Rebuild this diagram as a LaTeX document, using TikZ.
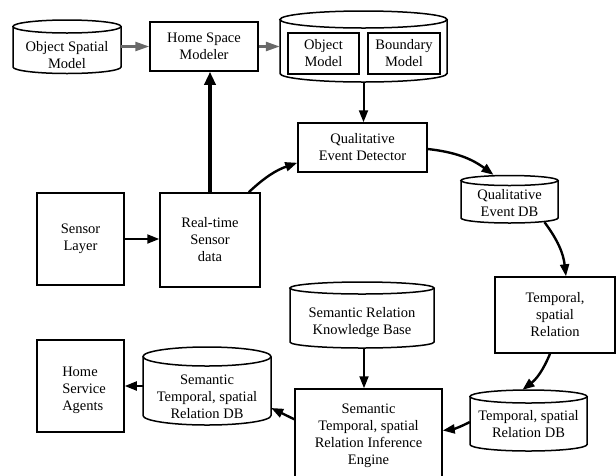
\documentclass[tikz,border=0pt]{standalone}
\usepackage{fontspec}
\setmainfont{Liberation Serif}
\newfontfamily\tnrfont{Liberation Serif}
\usetikzlibrary{arrows.meta,calc}
\tikzset{
  dbline/.style={line width=1.5pt},
  blk/.style={draw, line width=1.5pt, inner sep=0pt, align=center, font=\lblfont},
  shell/.style={draw=none, inner sep=0pt},
  lbl/.style={inner sep=0pt, align=center, font=\lblfont},
  arr/.style={line width=2pt, -{Triangle[length=12pt,width=9pt]}},
  carr/.style={line width=2.4pt, -{Triangle[length=12pt,width=9pt]}},
  tarr/.style={line width=3.8pt, -{Triangle[length=13pt,width=11pt]}},
  garr/.style={line width=2.5pt, draw={rgb,255:red,105;green,105;blue,105}, -{Triangle[length=14pt,width=9pt]}},
}
\newcommand\lblfont{\tnrfont\fontsize{14.5}{17}\selectfont}
\newcommand\drawdb[5]{%
  \pgfmathsetmacro\dbrx{(#2-#1)/2}%
  \pgfmathsetmacro\dbcx{(#1+#2)/2}%
  \draw[dbline] (#1,#3) -- (#1,#4) arc[start angle=180,end angle=360,x radius=\dbrx pt,y radius=#5 pt] -- (#2,#3);
  \draw[dbline] (\dbcx,#3) ellipse[x radius=\dbrx pt,y radius=#5 pt];
}
\begin{document}
\begin{tikzpicture}[x=1pt,y=-1pt]
\useasboundingbox (0,0) rectangle (616,475);
% cylinders (databases)
\drawdb{13}{121}{26.5}{67}{6.5}
\node[shell, minimum width=108pt, minimum height=53pt] (osm) at (67,46.5) {};
\node[lbl] (osmt) at (67,55) {Object Spatial\\Model};

\drawdb{280}{447}{19.5}{73.5}{8.5}
\node[shell, minimum width=167pt, minimum height=71pt] (bigdb) at (363.5,46.5) {};
\node[blk, minimum width=71pt, minimum height=41pt] (objm) at (323.5,53.5) {Object\\Model};
\node[blk, minimum width=72pt, minimum height=41pt] (bndm) at (404,53.5) {Boundary\\Model};

\drawdb{461}{558}{180.5}{218}{5}
\node[shell, minimum width=97pt, minimum height=47pt] (qedb) at (509.5,198.5) {};
\node[lbl] (qedbt) at (509.5,203.5) {Qualitative\\Event DB};

\drawdb{290}{434}{288}{342}{6}
\node[shell, minimum width=144pt, minimum height=66pt] (srkb) at (362,315) {};
\node[lbl] (srkbt) at (362,322.5) {Semantic Relation\\Knowledge Base};

\drawdb{470}{587}{396.5}{444.5}{6.5}
\node[shell, minimum width=117pt, minimum height=60pt] (tsrdb) at (528.5,420) {};
\node[lbl] (tsrdbt) at (528.5,424) {Temporal, spatial\\Relation DB};

\drawdb{143}{271}{356.5}{415.5}{9.5}
\node[shell, minimum width=128pt, minimum height=78pt] (ssrdb) at (207,386) {};
\node[lbl] (ssrdbt) at (207,397) {Semantic\\Temporal, spatial\\Relation DB};

% boxes
\node[blk, minimum width=108pt, minimum height=49pt] (hsm) at (204,46.5) {Home Space\\Modeler};
\node[blk, minimum width=129pt, minimum height=49pt] (qed) at (362.5,147.5) {Qualitative\\Event Detector};
\node[blk, minimum width=87pt, minimum height=92pt] (sens) at (80.5,239) {Sensor\\Layer};
\node[blk, minimum width=100pt, minimum height=94pt] (rts) at (210,240) {Real-time\\Sensor\\data};
\node[blk, minimum width=120pt, minimum height=76pt] (tsr) at (555,315) {Temporal,\\spatial\\Relation};
\node[blk, minimum width=147pt, minimum height=93pt] (srie) at (368.5,435.5) {Semantic\\Temporal, spatial\\Relation Inference\\Engine};
\node[blk, minimum width=87pt, minimum height=92pt] (hsa) at (80.5,386) {};
\node[lbl, align=left] (hsat) at (84,390) {Home\\Service\\Agents};

% connectors
\coordinate (kbs) at ($(srkb.south)+(2,0)$);
\draw[garr] (osm.east) -- (hsm.west);
\draw[garr] (hsm.east) -- (bigdb.west);
\draw[arr] (bigdb.south) -- (bigdb.south |- qed.north);
\draw[arr] (sens.east) -- (sens.east -| rts.west);
\draw[tarr] (rts.north) -- (rts.north |- hsm.south);
\draw[carr] ($(rts.north east)+(-12,0)$) to[bend left=12] ($(qed.south west)+(0,-10)$);
\draw[carr] ($(qed.east)+(0,1.5)$) to[bend left=15] ($(qedb.north)+(-16,0)$);
\draw[carr] ($(qedb.south)+(35,0)$) to[bend left=15] ($(tsr.north)+(11,0)$);
\draw[carr] ($(tsr.south)+(-5,0)$) to[bend left=15] ($(tsrdb.north)+(-6,0)$);
\draw[carr] ($(tsrdb.west)+(0,2)$) to[bend left=10] ($(srie.east)+(0,-5)$);
\draw[arr] (kbs) -- (kbs |- srie.north);
\draw[carr] ($(srie.north west)+(0,31)$) -- ($(ssrdb.east)+(0,22)$);
\draw[arr] (ssrdb.west) -- (hsa.east);
\end{tikzpicture}
\end{document}
